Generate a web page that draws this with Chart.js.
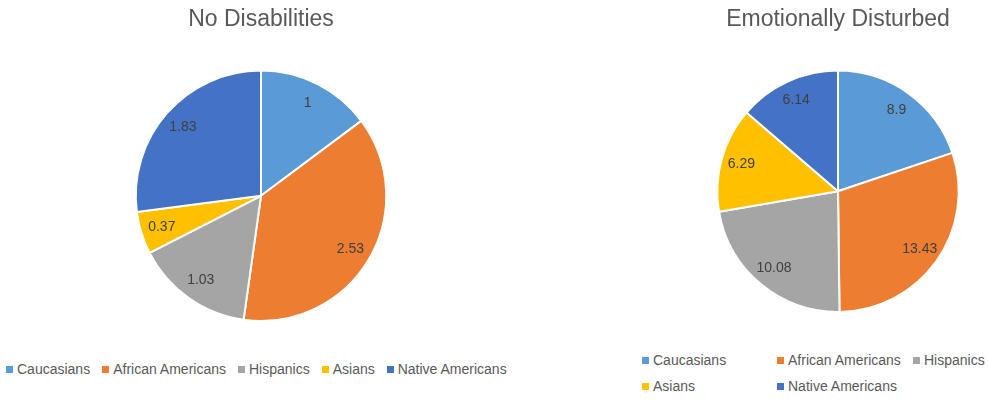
<!DOCTYPE html>
<html>
<head>
<meta charset="utf-8">
<script src="https://cdn.jsdelivr.net/npm/chart.js@4.4.1/dist/chart.umd.min.js"></script>
<style>
  html, body { margin: 0; padding: 0; background: #ffffff; }
  body { width: 989px; height: 402px; position: relative; overflow: hidden; font-family: "Liberation Sans", Arial, sans-serif; }
  .wrap { position: absolute; }
  .legend { position: absolute; font-size: 14px; color: #595959; }
  .legend .item { position: absolute; white-space: nowrap; line-height: 16px; }
  .legend .box { display: inline-block; width: 7px; height: 7px; margin-right: 4px; vertical-align: 1px; }
  .legend.flow { display: flex; }
  .legend.flow .item { position: static; margin-right: 12px; }
</style>
</head>
<body>
<div class="wrap" id="w1" style="left:0px; top:0px; width:522px; height:322px;"><canvas id="c1"></canvas></div>
<div class="wrap" id="w2" style="left:687px; top:0px; width:302px; height:313px;"><canvas id="c2"></canvas></div>
<div class="legend flow" id="lg1" style="left:6px; top:361px;"></div>
<div class="legend" id="lg2" style="left:642px; top:352px; width:347px; height:50px;"></div>
<script>
const categories = ["Caucasians", "African Americans", "Hispanics", "Asians", "Native Americans"];
const noDisabilities = [1, 2.53, 1.03, 0.37, 1.83];
const emotionallyDisturbed = [8.9, 13.43, 10.08, 6.29, 6.14];
const titles = ["No Disabilities", "Emotionally Disturbed"];
const colors = ["#5B9BD5", "#ED7D31", "#A5A5A5", "#FFC000", "#4472C4"];

const FONT = "'Liberation Sans', Arial, sans-serif";

const labelPlugin = {
  id: 'sliceLabels',
  afterDatasetsDraw(chart) {
    const ctx = chart.ctx;
    const meta = chart.getDatasetMeta(0);
    const data = chart.data.datasets[0].data;
    ctx.save();
    ctx.font = "14px " + FONT;
    ctx.fillStyle = "#404040";
    ctx.textAlign = "center";
    ctx.textBaseline = "middle";
    meta.data.forEach((arc, i) => {
      const p = arc.getProps(['x', 'y', 'startAngle', 'endAngle', 'outerRadius'], true);
      const mid = (p.startAngle + p.endAngle) / 2;
      const r = p.outerRadius * 0.83;
      ctx.fillText(String(data[i]), p.x + Math.cos(mid) * r, p.y + Math.sin(mid) * r);
    });
    ctx.restore();
  }
};

function makePie(id, values, title, padLR, titleBottom) {
  return new Chart(document.getElementById(id), {
    type: 'pie',
    data: {
      labels: categories,
      datasets: [{
        data: values,
        backgroundColor: colors,
        borderColor: '#ffffff',
        borderWidth: 2,
        hoverOffset: 0
      }]
    },
    options: {
      responsive: true,
      maintainAspectRatio: false,
      animation: false,
      events: [],
      layout: { padding: { left: padLR, right: padLR, top: 0, bottom: 0 } },
      plugins: {
        legend: { display: false },
        tooltip: { enabled: false },
        title: {
          display: true,
          text: title,
          color: '#595959',
          font: { family: FONT, size: 23, weight: 'normal', lineHeight: 1.2 },
          padding: { top: 6, bottom: titleBottom }
        }
      }
    },
    plugins: [labelPlugin]
  });
}

makePie('c1', noDisabilities, titles[0], 134.5, 36);
makePie('c2', emotionallyDisturbed, titles[1], 29, 36);

function item(i) {
  const d = document.createElement('span');
  d.className = 'item';
  const b = document.createElement('span');
  b.className = 'box';
  b.style.background = colors[i];
  d.appendChild(b);
  d.appendChild(document.createTextNode(categories[i]));
  return d;
}
const lg1 = document.getElementById('lg1');
categories.forEach((c, i) => lg1.appendChild(item(i)));

const lg2 = document.getElementById('lg2');
const colX = [0, 135, 271];
categories.forEach((c, i) => {
  const el = item(i);
  const row = Math.floor(i / 3), col = i % 3;
  el.style.left = colX[col] + 'px';
  el.style.top = (row * 26) + 'px';
  lg2.appendChild(el);
});
</script>
</body>
</html>
